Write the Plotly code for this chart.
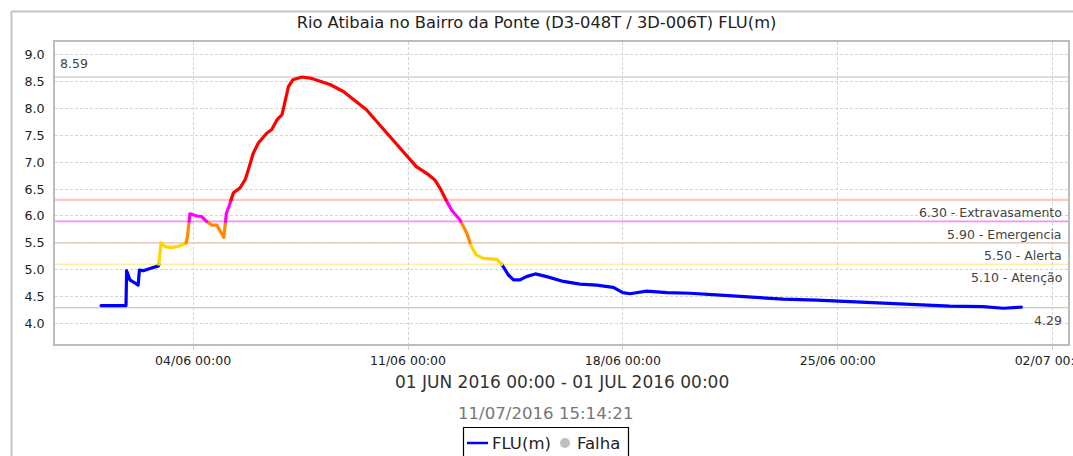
import numpy as np
import pandas as pd
import plotly.graph_objects as go

# ---------------- data ----------------
times = [
    "2016-06-01 00:00", "2016-06-01 09:30", "2016-06-01 19:30", "2016-06-01 20:00",
    "2016-06-01 22:30", "2016-06-02 02:00", "2016-06-02 05:00", "2016-06-02 06:00",
    "2016-06-02 09:00", "2016-06-02 15:30", "2016-06-02 21:00", "2016-06-02 23:00",
    "2016-06-03 02:00", "2016-06-03 07:00", "2016-06-03 13:30", "2016-06-03 18:30",
    "2016-06-03 19:30", "2016-06-03 21:30", "2016-06-04 03:00", "2016-06-04 06:30",
    "2016-06-04 10:30", "2016-06-04 14:30", "2016-06-04 18:30", "2016-06-04 22:30",
    "2016-06-05 00:00", "2016-06-05 02:00", "2016-06-05 04:30", "2016-06-05 06:00",
    "2016-06-05 07:30", "2016-06-05 12:30", "2016-06-05 16:30", "2016-06-05 18:00",
    "2016-06-05 20:30", "2016-06-05 23:00", "2016-06-06 03:00", "2016-06-06 09:30",
    "2016-06-06 13:30", "2016-06-06 17:30", "2016-06-06 21:30", "2016-06-07 00:00",
    "2016-06-07 02:30", "2016-06-07 06:00", "2016-06-07 13:00", "2016-06-07 19:30",
    "2016-06-08 03:00", "2016-06-08 11:00", "2016-06-08 21:30", "2016-06-09 08:00",
    "2016-06-09 15:30", "2016-06-10 05:00", "2016-06-10 18:00", "2016-06-11 06:30",
    "2016-06-11 16:00", "2016-06-11 21:00", "2016-06-12 01:00", "2016-06-12 05:00",
    "2016-06-12 10:00", "2016-06-12 16:30", "2016-06-12 22:00", "2016-06-13 01:30",
    "2016-06-13 05:30", "2016-06-13 11:00", "2016-06-13 21:30", "2016-06-14 01:00",
    "2016-06-14 06:30", "2016-06-14 10:30", "2016-06-14 15:30", "2016-06-14 20:30",
    "2016-06-15 03:30", "2016-06-15 12:30", "2016-06-16 01:30", "2016-06-16 14:30",
    "2016-06-17 03:30", "2016-06-17 16:30", "2016-06-18 00:00", "2016-06-18 05:30",
    "2016-06-18 18:30", "2016-06-19 10:30", "2016-06-20 04:30", "2016-06-21 01:00",
    "2016-06-22 03:30", "2016-06-23 05:30", "2016-06-24 07:30", "2016-06-25 09:30",
    "2016-06-26 11:30", "2016-06-27 13:30", "2016-06-28 15:30", "2016-06-29 17:30",
    "2016-06-30 06:30", "2016-06-30 09:30", "2016-06-30 23:30",
]
level = [
    4.33, 4.33, 4.33, 4.98,
    4.81, 4.76, 4.71, 4.99,
    4.98, 5.03, 5.07, 5.50,
    5.43, 5.41, 5.44, 5.50,
    5.60, 6.04, 6.00, 5.99,
    5.90, 5.83, 5.83, 5.68,
    5.60, 6.05, 6.21, 6.33,
    6.43, 6.52, 6.67, 6.77,
    6.99, 7.17, 7.36, 7.54,
    7.61, 7.79, 7.89, 8.17,
    8.41, 8.54, 8.59, 8.57,
    8.51, 8.45, 8.32, 8.13,
    7.98, 7.61, 7.26, 6.92,
    6.77, 6.67, 6.52, 6.33,
    6.11, 5.93, 5.68, 5.43,
    5.27, 5.21, 5.19, 5.11,
    4.90, 4.81, 4.81, 4.87,
    4.92, 4.87, 4.78, 4.73,
    4.71, 4.67, 4.57, 4.55,
    4.60, 4.57, 4.56, 4.53,
    4.49, 4.45, 4.43, 4.40,
    4.37, 4.34, 4.32, 4.31,
    4.29, 4.28, 4.30,
]

thr_values = [8.59, 6.30, 5.90, 5.50, 5.10, 4.29]
thr_labels = ["8.59", "6.30 - Extravasamento", "5.90 - Emergencia",
              "5.50 - Alerta", "5.10 - Atenção", "4.29"]
thr_colors = ["#bdbdbd", "#ffc4c4", "#ff8cff", "#ffb37a", "#fff0a0", "#bdbdbd"]
thr_widths = [1.2, 2.2, 1.6, 1.2, 1.4, 1.2]

band_edges = [5.10, 5.50, 5.90, 6.30]
band_colors = ["#0000ff", "#ffd400", "#ff8a00", "#ff00ff", "#ff0000"]

x_tick_vals = ["2016-06-04", "2016-06-11", "2016-06-18", "2016-06-25", "2016-07-02"]
x_tick_text = ["04/06 00:00", "11/06 00:00", "18/06 00:00", "25/06 00:00", "02/07 00:00"]
y_tick_vals = [4.0, 4.5, 5.0, 5.5, 6.0, 6.5, 7.0, 7.5, 8.0, 8.5, 9.0]

title_text = "Rio Atibaia no Bairro da Ponte (D3-048T / 3D-006T) FLU(m)"
period_text = "01 JUN 2016 00:00 - 01 JUL 2016 00:00"
stamp_text = "11/07/2016 15:14:21"
series_name = "FLU(m)"
fail_name = "Falha"

# ---------------- layout geometry ----------------
W, H = 1073, 456
PL, PR, PT, PB = 55, 1068, 42, 344  # plot area in pixels
FONT = "DejaVu Sans"


def px(x):
    return (x - PL) / (PR - PL)


def py(y):
    return (PB - y) / (PB - PT)


# ---------------- split series into colour bands ----------------
tnum = pd.to_datetime(times).astype("int64").to_numpy() / 1e6  # ms
vals = np.asarray(level, dtype=float)


def band_of(v):
    return int(np.searchsorted(band_edges, v, side="right"))


band_pts = {b: [] for b in range(len(band_colors))}
for i in range(len(tnum) - 1):
    x0, y0, x1, y1 = tnum[i], vals[i], tnum[i + 1], vals[i + 1]
    cuts = [e for e in band_edges if min(y0, y1) < e < max(y0, y1)]
    cuts.sort(reverse=(y1 < y0))
    pts = [(x0, y0)] + [(x0 + (x1 - x0) * (e - y0) / (y1 - y0), e) for e in cuts] + [(x1, y1)]
    for (ax, ay), (bx, by) in zip(pts[:-1], pts[1:]):
        b = band_of((ay + by) / 2.0)
        lst = band_pts[b]
        if lst and lst[-1] is not None and lst[-1] == (ax, ay):
            lst.append((bx, by))
        else:
            if lst:
                lst.append(None)
            lst.append((ax, ay))
            lst.append((bx, by))

fig = go.Figure()
for b, lst in band_pts.items():
    if not lst:
        continue
    xs = [None if p is None else pd.to_datetime(p[0], unit="ms") for p in lst]
    ys = [None if p is None else p[1] for p in lst]
    fig.add_trace(go.Scatter(
        x=xs, y=ys, mode="lines", connectgaps=False,
        line=dict(color=band_colors[b], width=3.2),
        showlegend=False, hoverinfo="skip",
    ))

shapes = []
annotations = []

# threshold lines + labels
for v, lab, c, w in zip(thr_values, thr_labels, thr_colors, thr_widths):
    shapes.append(dict(type="line", xref="paper", yref="y", x0=0, x1=1, y0=v, y1=v,
                       line=dict(color=c, width=w), layer="between"))
    if lab == "8.59":
        annotations.append(dict(xref="paper", yref="y", x=px(58), y=v, yshift=13.5,
                                text=lab, showarrow=False, xanchor="left", yanchor="middle",
                                font=dict(family=FONT, size=12.5, color="#444")))
    else:
        annotations.append(dict(xref="paper", yref="y", x=px(1064), y=v, yshift=-13,
                                text=lab, showarrow=False, xanchor="right", yanchor="middle",
                                font=dict(family=FONT, size=12.5, color="#444")))

# outer frame (left and top edges visible)
shapes.append(dict(type="line", xref="paper", yref="paper", x0=px(11.5), x1=px(1100),
                   y0=py(11.5), y1=py(11.5), line=dict(color="#c4c4c4", width=2)))
shapes.append(dict(type="line", xref="paper", yref="paper", x0=px(11.5), x1=px(11.5),
                   y0=py(11.5), y1=py(480), line=dict(color="#c4c4c4", width=2)))

# period label and timestamp
annotations.append(dict(xref="paper", yref="paper", x=px(561.5), y=py(382), text=period_text,
                        showarrow=False, xanchor="center", yanchor="middle",
                        font=dict(family=FONT, size=17, color="#333")))
annotations.append(dict(xref="paper", yref="paper", x=px(545), y=py(413), text=stamp_text,
                        showarrow=False, xanchor="center", yanchor="middle",
                        font=dict(family=FONT, size=16.6, color="#777")))

# legend box (manual)
shapes.append(dict(type="rect", xref="paper", yref="paper", x0=px(463.5), x1=px(628.5),
                   y0=py(427.5), y1=py(470), line=dict(color="#000", width=1.2),
                   fillcolor="rgba(0,0,0,0)"))
shapes.append(dict(type="line", xref="paper", yref="paper", x0=px(467), x1=px(488),
                   y0=py(443), y1=py(443), line=dict(color="#0000ff", width=2.5)))
shapes.append(dict(type="circle", xref="paper", yref="paper", x0=px(560), x1=px(570),
                   y0=py(438), y1=py(448), line=dict(width=0), fillcolor="#c0c0c0"))
annotations.append(dict(xref="paper", yref="paper", x=px(490), y=py(443), text=series_name,
                        showarrow=False, xanchor="left", yanchor="middle",
                        font=dict(family=FONT, size=16.5, color="#222")))
annotations.append(dict(xref="paper", yref="paper", x=px(575), y=py(443), text=fail_name,
                        showarrow=False, xanchor="left", yanchor="middle",
                        font=dict(family=FONT, size=16.5, color="#222")))

fig.update_layout(
    width=W, height=H,
    margin=dict(l=PL, r=W - PR, t=PT, b=H - PB, pad=0, autoexpand=False),
    paper_bgcolor="white", plot_bgcolor="white",
    title=dict(text=title_text, x=0.5, xref="container", xanchor="center",
               y=1 - 22 / H, yref="container", yanchor="middle",
               font=dict(family=FONT, size=16.3, color="#222")),
    font=dict(family=FONT),
    showlegend=False,
    shapes=shapes,
    annotations=annotations,
    xaxis=dict(
        type="date", range=["2016-05-30 12:00", "2016-07-02 12:00"],
        tickmode="array", tickvals=x_tick_vals, ticktext=x_tick_text,
        tickfont=dict(family=FONT, size=12.5, color="#222"),
        ticklabeloverflow="allow", automargin=False,
        showgrid=True, gridcolor="#d4d4d4", griddash="3px,2px", gridwidth=1,
        showline=True, linecolor="#bdbdbd", linewidth=1.5, mirror=True,
        ticks="outside", ticklen=4, tickcolor="#d0d0d0",
        zeroline=False, fixedrange=True,
    ),
    yaxis=dict(
        range=[3.614, 9.242], automargin=False,
        tickmode="array", tickvals=y_tick_vals,
        ticktext=[f"{v:.1f}" for v in y_tick_vals],
        tickfont=dict(family=FONT, size=12.7, color="#222"),
        showgrid=True, gridcolor="#d4d4d4", griddash="3px,2px", gridwidth=1,
        showline=True, linecolor="#bdbdbd", linewidth=1.5, mirror=True,
        ticks="", ticklabelstandoff=6,
        zeroline=False, fixedrange=True,
    ),
)

post_js = (
    "document.body.style.margin='0';document.body.style.overflow='hidden';"
    "var s=document.createElement('style');"
    "s.textContent='.scatterlayer path.js-line{stroke-linejoin:round;stroke-linecap:round;}';"
    "document.head.appendChild(s);"
)
fig.write_html("out.html", config={"displayModeBar": False}, post_script=post_js)
